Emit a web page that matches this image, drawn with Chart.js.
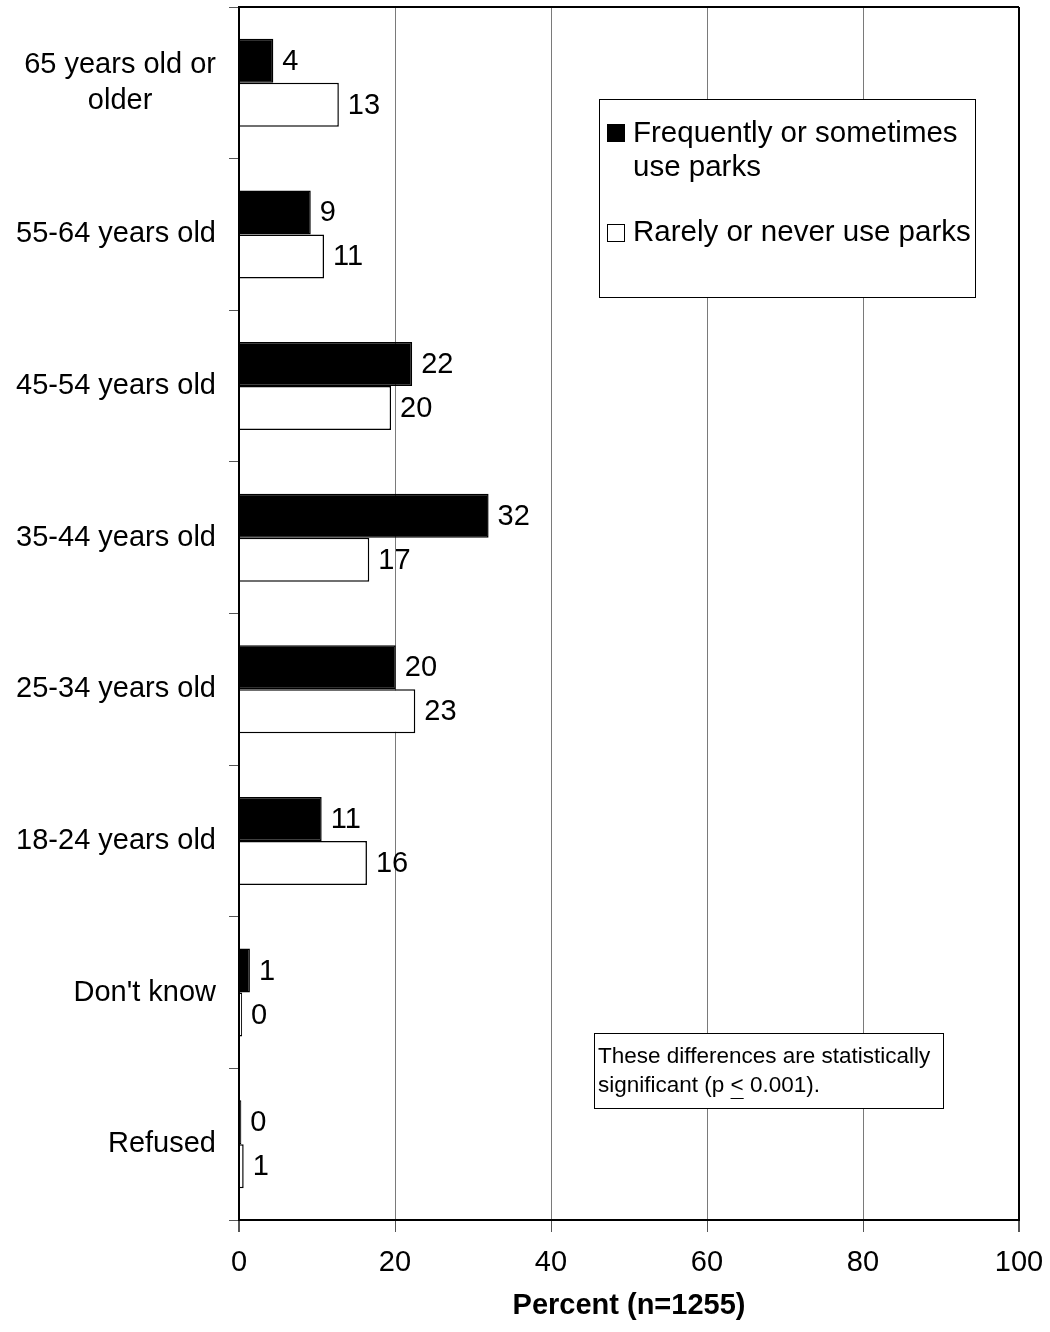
<!DOCTYPE html>
<html>
<head>
<meta charset="utf-8">
<script src="https://cdn.jsdelivr.net/npm/chart.js@4.4.1/dist/chart.umd.min.js"></script>
<style>
  html, body { margin: 0; padding: 0; background: #ffffff; }
  #wrap { width: 1050px; height: 1332px; }
</style>
</head>
<body>
<div id="wrap"><canvas id="parksChart" width="1050" height="1332"></canvas></div>
<script>
// categorias (de cima para baixo)
const categorias = [
  ['65 years old or', 'older'],
  '55-64 years old',
  '45-54 years old',
  '35-44 years old',
  '25-34 years old',
  '18-24 years old',
  "Don't know",
  'Refused'
];
// percentuais
const usaParques = [4.4, 9.2, 22.2, 32.0, 20.1, 10.6, 1.4, 0.3];
const naoUsaParques = [12.8, 10.9, 19.5, 16.7, 22.6, 16.4, 0.4, 0.6];
// rótulos impressos ao lado das barras
const rotulosUsa = ['4', '9', '22', '32', '20', '11', '1', '0'];
const rotulosNaoUsa = ['13', '11', '20', '17', '23', '16', '0', '1'];
const ticksX = [0, 20, 40, 60, 80, 100];

const nomeSerie1 = ['Frequently or sometimes', 'use parks'];
const nomeSerie2 = 'Rarely or never use parks';
const nota = ['These differences are statistically', 'significant (p < 0.001).'];

const FONTE = '"Liberation Sans", Arial, sans-serif';

// plugin que desenha rótulos, moldura, legenda e nota
const extras = {
  id: 'extras',
  afterDraw(chart) {
    const ctx = chart.ctx;
    const area = chart.chartArea;
    const y = chart.scales.y;
    ctx.save();

    // linha superior da moldura
    ctx.strokeStyle = '#000';
    ctx.lineWidth = 2;
    ctx.beginPath();
    ctx.moveTo(area.left, area.top);
    ctx.lineTo(area.right, area.top);
    ctx.stroke();

    // rótulos das categorias (bloco centralizado, alinhado à direita)
    ctx.font = '29px ' + FONTE;
    ctx.fillStyle = '#000';
    ctx.textBaseline = 'middle';
    ctx.textAlign = 'center';
    categorias.forEach((lab, i) => {
      const linhas = Array.isArray(lab) ? lab : [lab];
      const larg = Math.max(...linhas.map(l => ctx.measureText(l).width));
      const cx = 216 - larg / 2;
      const cy = y.getPixelForValue(i);
      const lh = 36;
      linhas.forEach((l, k) => {
        ctx.fillText(l, cx, cy + (k - (linhas.length - 1) / 2) * lh);
      });
    });

    // valores ao lado das barras
    ctx.textAlign = 'left';
    [rotulosUsa, rotulosNaoUsa].forEach((rot, d) => {
      const meta = chart.getDatasetMeta(d);
      meta.data.forEach((bar, i) => {
        ctx.fillText(rot[i], bar.x + 9, bar.y + 1);
      });
    });

    // legenda
    ctx.lineWidth = 1;
    ctx.strokeStyle = '#000';
    ctx.fillStyle = '#fff';
    ctx.fillRect(599.5, 99.5, 376, 198);
    ctx.strokeRect(599.5, 99.5, 376, 198);
    ctx.fillStyle = '#000';
    ctx.fillRect(607, 124, 18, 18);
    ctx.strokeRect(607.5, 224.5, 17, 17);
    ctx.font = '29.5px ' + FONTE;
    ctx.fillText(nomeSerie1[0], 633, 134);
    ctx.fillText(nomeSerie1[1], 633, 168);
    ctx.fillText(nomeSerie2, 633, 233);

    // caixa da nota
    ctx.fillStyle = '#fff';
    ctx.fillRect(594.5, 1033.5, 349, 75);
    ctx.strokeRect(594.5, 1033.5, 349, 75);
    ctx.fillStyle = '#000';
    ctx.font = '22.5px ' + FONTE;
    ctx.fillText(nota[0], 598, 1057);
    ctx.fillText(nota[1], 598, 1086);
    // sublinhado do "<"
    const pre = ctx.measureText('significant (p ').width;
    const w = ctx.measureText('<').width;
    ctx.beginPath();
    ctx.moveTo(598 + pre, 1098.5);
    ctx.lineTo(598 + pre + w, 1098.5);
    ctx.stroke();

    ctx.restore();
  }
};

const ctx = document.getElementById('parksChart').getContext('2d');
const grafico = new Chart(ctx, {
  type: 'bar',
  data: {
    labels: categorias.map(c => Array.isArray(c) ? c.join(' ') : c),
    datasets: [{
      label: nomeSerie1.join(' '),
      data: usaParques,
      backgroundColor: '#000',
      borderColor: '#000',
      borderWidth: 1.5,
      categoryPercentage: 0.58,
      barPercentage: 1.0
    }, {
      label: nomeSerie2,
      data: naoUsaParques,
      backgroundColor: '#fff',
      borderColor: '#000',
      borderWidth: 1.5,
      categoryPercentage: 0.58,
      barPercentage: 1.0
    }]
  },
  options: {
    indexAxis: 'y',
    responsive: false,
    animation: false,
    layout: { padding: { top: 7, right: 31, left: 0, bottom: 0 } },
    plugins: {
      legend: { display: false },
      tooltip: { enabled: false }
    },
    scales: {
      x: {
        min: 0,
        max: 100,
        afterBuildTicks: (scale) => { scale.ticks = ticksX.map(v => ({ value: v })); },
        afterFit: (scale) => {
          scale.height = 112;
          scale.paddingRight = 0;
          scale.paddingLeft = 0;
        },
        ticks: {
          color: '#000',
          font: { family: FONTE, size: 29 },
          padding: 14
        },
        grid: {
          color: (c) => (c.tick && (c.tick.value === 0 || c.tick.value === 100)) ? '#000' : '#7a7a7a',
          lineWidth: (c) => (c.tick && (c.tick.value === 0 || c.tick.value === 100)) ? 2 : 1,
          tickColor: '#555',
          tickLength: 12
        },
        border: { color: '#000', width: 2 },
        title: {
          display: true,
          text: 'Percent (n=1255)',
          color: '#000',
          font: { family: FONTE, size: 29, weight: 'bold' },
          padding: { top: 0, bottom: 9 }
        }
      },
      y: {
        afterFit: (scale) => { scale.width = 239; },
        ticks: { display: false },
        grid: {
          drawOnChartArea: false,
          color: '#555',
          tickLength: 10,
          offset: true
        },
        border: { color: '#000', width: 2 }
      }
    }
  },
  plugins: [extras]
});
</script>
</body>
</html>
